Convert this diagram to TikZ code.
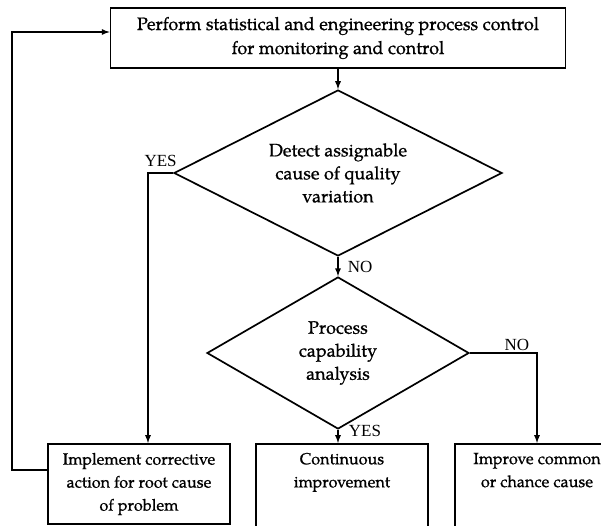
\documentclass[tikz,border=0pt]{standalone}
\usepackage{fontspec}
\setmainfont{TeX Gyre Pagella}[FakeBold=0.8]
\newfontfamily\ynfont{Liberation Serif}
\usetikzlibrary{shapes.geometric}

\tikzset{
  procbox/.style={draw, align=center, inner xsep=0pt, inner ysep=9pt, minimum height=80pt, anchor=north,
    font=\fontsize{16.2}{23}\selectfont},
  decide/.style={draw, diamond, aspect=2, align=center, inner sep=0pt, font=\fontsize{18}{23}\selectfont},
  yn/.style={font=\ynfont\fontsize{17}{17}\selectfont, inner sep=1pt},
}

\begin{document}
\begin{tikzpicture}[x=1pt,y=-1pt,>=latex,line width=1.7pt]
\useasboundingbox (0,0) rectangle (601,525);
\clip (0,0) rectangle (601,525);

\node[draw,align=center,minimum width=455pt,minimum height=60pt,font=\fontsize{18}{24}\selectfont](spc) at (338,38)
    {Perform statistical and engineering process control\\for monitoring and control};
\node[decide,minimum width=328pt,minimum height=166pt](detect) at (338,173)
    {Detect assignable\\cause of quality\\variation};
\node[decide,aspect=1.7,minimum width=262pt,minimum height=152pt](capab) at (338,353)
    {Process\\capability\\analysis};

\node[procbox,minimum width=182pt](action) at (139,443) {Implement corrective\\action for root cause\\of problem};
\node[procbox,minimum width=172pt](contin) at (342,443) {Continuous\\improvement\\\rule[-30pt]{0pt}{0pt}};
\node[procbox,minimum width=164pt](common) at (537,443) {Improve common\\or chance cause\\\rule[-30pt]{0pt}{0pt}};

\coordinate (back) at (12,32);

\draw[->] (spc) -- (detect);
\draw[->] (detect) -- node[yn,right=8pt]{NO} (capab);
\draw[->] (capab.south) -- node[yn,right=9pt,pos=0.1]{YES} (capab.south |- contin.north);
\draw[->] (detect.west) -| node[yn,above=4pt,pos=0.25]{YES} ([xshift=9pt]action.north);
\draw[->] (capab.east) -| node[yn,above=0pt,pos=0.35]{NO} (common.north);
\draw[->] ([yshift=14pt]action.west) -| (back) -- ([yshift=6pt]spc.west);

\end{tikzpicture}
\end{document}
